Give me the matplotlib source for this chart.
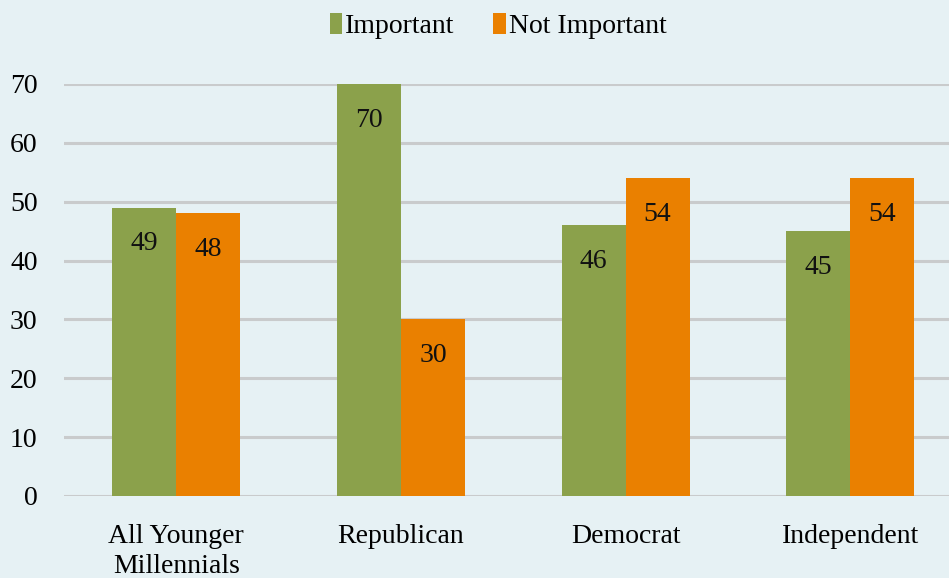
import numpy as np
import matplotlib.pyplot as plt

categories = ['All Younger\nMillennials', 'Republican', 'Democrat', 'Independent']
important = [49, 70, 46, 45]
not_important = [48, 30, 54, 54]
y_ticks = [0, 10, 20, 30, 40, 50, 60, 70]

bg = '#E6F1F4'
green = '#8BA14B'
orange = '#EA8000'

plt.rcParams['font.family'] = ['Liberation Serif', 'DejaVu Serif']

fig = plt.figure(figsize=(9.49, 5.78), dpi=100, facecolor=bg)
ax = fig.add_axes([0.0674, 0.1419, 0.9326, 0.7128], facecolor=bg)

x = np.arange(len(categories))
w = 0.285
b1 = ax.bar(x - w / 2, important, w, color=green, label='Important', zorder=3)
b2 = ax.bar(x + w / 2, not_important, w, color=orange, label='Not Important', zorder=3)

# value labels inside the bars, a bit below the top
for bars, vals in [(b1, important), (b2, not_important)]:
    for r, v in zip(bars, vals):
        ax.annotate(str(v), (r.get_x() + r.get_width() / 2, v), xytext=(0, -26),
                    textcoords='offset points', ha='center', va='center',
                    fontsize=20, color='#111111', zorder=4)

ax.set_ylim(0, 70)
ax.set_xlim(-0.5, 3.44)
ax.set_yticks(y_ticks)
ax.set_xticks(x)
ax.set_xticklabels(categories, fontsize=20, linespacing=1.3)
ax.tick_params(axis='y', length=0, pad=19, labelsize=20)
ax.tick_params(axis='x', length=0, pad=20)
ax.grid(axis='y', color='#C9CBCC', linewidth=2.2, zorder=0)
for s in ax.spines.values():
    s.set_visible(False)

fig.legend(loc='upper center', bbox_to_anchor=(0.525, 1.02), ncol=2, frameon=False,
           fontsize=20, handlelength=0.45, handleheight=0.75, handletextpad=0.1,
           columnspacing=1.4)

fig.savefig('out.png', dpi=100, facecolor=bg)
